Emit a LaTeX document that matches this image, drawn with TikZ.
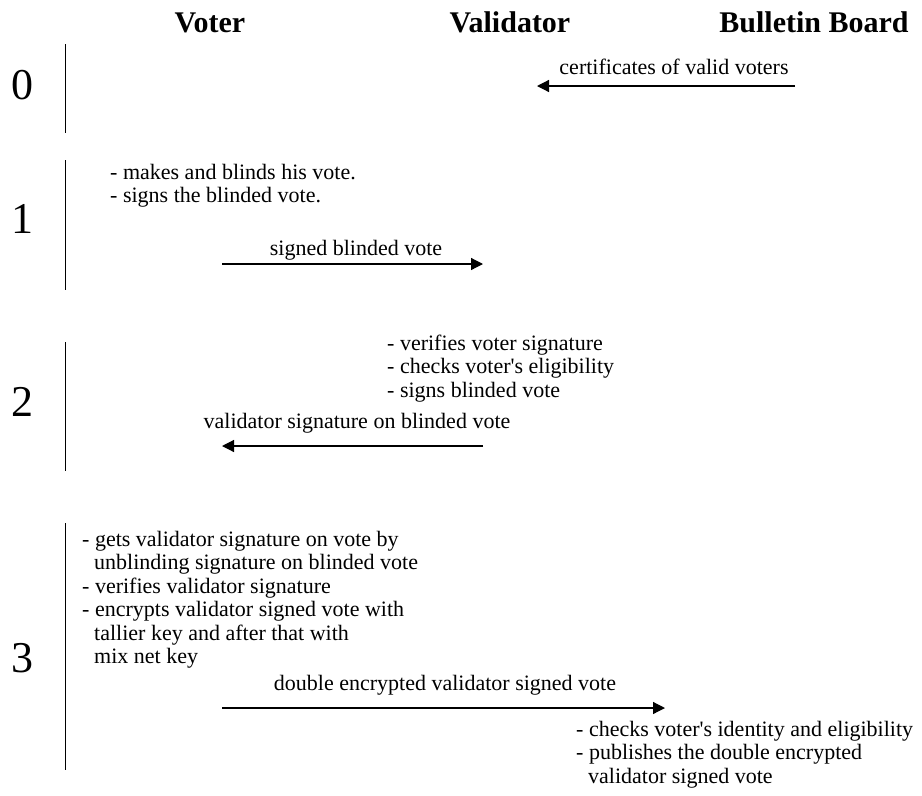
\documentclass[tikz,border=0pt]{standalone}
\usepackage{fontspec}
\newfontfamily\diagserif{Liberation Serif}
\usetikzlibrary{arrows.meta}
\begin{document}
\begin{tikzpicture}[x=1pt,y=-1pt,
  hdr/.style={font=\diagserif\fontsize{30}{32}\selectfont\bfseries, inner sep=0pt, anchor=base},
  num/.style={font=\diagserif\fontsize{44}{48}\selectfont, inner sep=0pt, anchor=base},
  txt/.style={font=\diagserif\fontsize{22}{23.5}\selectfont, inner sep=0pt, anchor=base west, align=left},
  lbl/.style={font=\diagserif\fontsize{22}{23.5}\selectfont, inner sep=0pt, anchor=base},
  bar/.style={line width=1pt},
  msg/.style={line width=1.2pt, -{Triangle[length=12pt,width=12pt]}}]
\useasboundingbox (0,0) rectangle (922,796);
% headers
\node[hdr] (hvoter) at (210,32) {Voter};
\node[hdr] (hvalid) at (510,32) {Validator};
\node[hdr] (hboard) at (814,32) {Bulletin Board};
% step numbers
\node[num] (n0) at (23,99) {0};
\node[num] (n1) at (23,233) {1};
\node[num] (n2) at (23,416) {2};
\node[num] (n3) at (23,672) {3};
% step bars
\coordinate (b0t) at (65,44);  \coordinate (b0b) at (65,133);
\coordinate (b1t) at (65,160); \coordinate (b1b) at (65,290);
\coordinate (b2t) at (65,342); \coordinate (b2b) at (65,471);
\coordinate (b3t) at (65,523); \coordinate (b3b) at (65,770);
\draw[bar] (b0t) -- (b0b);
\draw[bar] (b1t) -- (b1b);
\draw[bar] (b2t) -- (b2b);
\draw[bar] (b3t) -- (b3b);
% step 0
\node[lbl] (l0) at (674,74) {certificates of valid voters};
\coordinate (a0s) at (795,86); \coordinate (a0e) at (537,86);
\draw[msg] (a0s) -- (a0e);
% step 1 (anchor = baseline of last line)
\node[txt] (t1) at (110,202.5) {- makes and blinds his vote.\\- signs the blinded vote.};
\node[lbl] (l1) at (356,255) {signed blinded vote};
\coordinate (a1s) at (222,264); \coordinate (a1e) at (483,264);
\draw[msg] (a1s) -- (a1e);
% step 2
\node[txt] (t2) at (387,397) {- verifies voter signature\\- checks voter's eligibility\\- signs blinded vote};
\node[lbl] (l2) at (357,428) {validator signature on blinded vote};
\coordinate (a2s) at (483,446); \coordinate (a2e) at (222,446);
\draw[msg] (a2s) -- (a2e);
% step 3
\node[txt] (t3) at (82,663.5) {- gets validator signature on vote by\\\hspace*{12pt}unblinding signature on blinded vote\\- verifies validator signature\\- encrypts validator signed vote with\\\hspace*{12pt}tallier key and after that with\\\hspace*{12pt}mix net key};
\node[lbl] (l3) at (445,690) {double encrypted validator signed vote};
\coordinate (a3s) at (222,708); \coordinate (a3e) at (665,708);
\draw[msg] (a3s) -- (a3e);
\node[txt] (t4) at (576,783) {- checks voter's identity and eligibility\\- publishes the double encrypted\\\hspace*{12pt}validator signed vote};
\end{tikzpicture}
\end{document}
